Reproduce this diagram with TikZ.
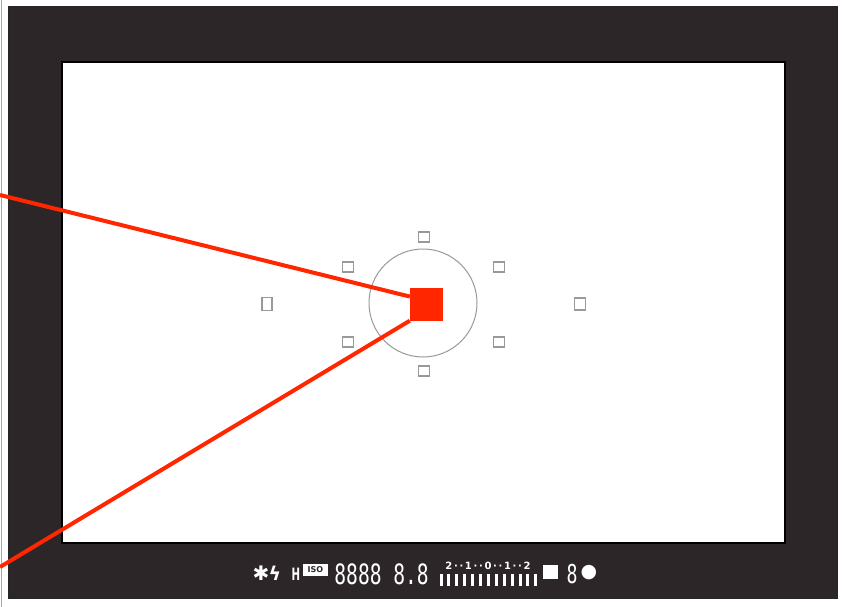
\documentclass[tikz,border=0pt]{standalone}
\usepackage{fontspec}
\newfontfamily\dejavu{DejaVu Sans}
\newfontfamily\dejavumono{DejaVu Sans Mono}
\definecolor{framedark}{RGB}{44,38,40}
\definecolor{markred}{RGB}{255,38,0}
\tikzset{
  afpoint/.style={draw=gray!80, line width=1.3pt, minimum width=11pt, minimum height=10pt, inner sep=0pt},
  redline/.style={draw=markred, line width=4pt},
  lcd/.style={text=white, inner sep=0pt, anchor=center},
  tick/.style={fill=white, draw=none, minimum width=3pt, minimum height=12pt, inner sep=0pt}
}
\begin{document}
\begin{tikzpicture}[x=1pt,y=-1pt]
\useasboundingbox (0,0) rectangle (846,607);
\fill[white] (0,0) rectangle (846,607);
\draw[gray!70, line width=1.5pt] (1.5,0) -- (1.5,607);
% frame
\node[fill=framedark, draw=black!85, line width=1pt, minimum width=829pt, minimum height=591pt, inner sep=0pt] (frame) at (422.5,302.5) {};
\node[fill=white, draw=black, line width=1.5pt, minimum width=723pt, minimum height=481pt, inner sep=0pt] (screen) at (423.5,302.5) {};
% circle
\node[draw=gray!80, line width=1pt, circle, minimum size=108pt, inner sep=0pt] (ring) at (423,303) {};
% AF points
\node[afpoint] (p1) at (424,237) {};
\node[afpoint] (p2) at (424,371) {};
\node[afpoint] (p3) at (348,267) {};
\node[afpoint] (p4) at (499,267) {};
\node[afpoint] (p5) at (348,342) {};
\node[afpoint] (p6) at (499,342) {};
\node[afpoint, minimum width=10pt, minimum height=13pt] (p7) at (267,304) {};
\node[afpoint, minimum width=11pt, minimum height=12pt] (p8) at (580,304) {};
% red marker and lines
\coordinate (la) at (0,195);
\coordinate (lb) at (0,567);
\node[fill=markred, minimum size=33pt, inner sep=0pt] (sq) at (426.5,304) {};
\draw[redline] (la) -- (sq.156);
\draw[redline] (lb) -- (sq.225);
\node[fill=markred, minimum size=33pt, inner sep=0pt] at (426.5,304) {};
% LCD strip
\node[lcd, font=\dejavu\bfseries\fontsize{20}{20}\selectfont] (ast) at (261,573) {✱};
\node[lcd, font=\dejavu\bfseries\fontsize{19}{19}\selectfont] (bolt) at (275,573) {ϟ};
\node[lcd, font=\dejavu\bfseries\fontsize{17}{17}\selectfont, xscale=0.6] (hh) at (296,574) {H};
\node[fill=white, minimum width=25pt, minimum height=12pt, inner sep=0pt] (isobox) at (315.5,570) {};
\node[text=framedark, font=\dejavu\bfseries\fontsize{8}{8}\selectfont, inner sep=0pt] at (isobox) {ISO};
\node[lcd, font=\dejavumono\fontsize{28}{28}\selectfont, xscale=0.7] (digits) at (358,574) {8888};
\node[lcd, font=\dejavumono\fontsize{28}{28}\selectfont, xscale=0.7] (fnum) at (411,574) {8.8};
\node[lcd, font=\dejavu\bfseries\fontsize{10}{10}\selectfont] (scale) at (488,566) {2\,·\,·\,1\,·\,·\,0\,·\,·\,1\,·\,·\,2};
\foreach \i in {0,...,12} {
  \node[tick] (t\i) at ({441+7.9*\i},580) {};
}
\node[fill=white, minimum width=15pt, minimum height=14pt, inner sep=0pt] (evbox) at (550,572) {};
\node[lcd, font=\dejavumono\fontsize{26}{26}\selectfont, xscale=0.7] (last8) at (572,574) {8};
\node[lcd, font=\dejavu\fontsize{19}{19}\selectfont] (dot) at (589,573) {●};
\end{tikzpicture}
\end{document}
